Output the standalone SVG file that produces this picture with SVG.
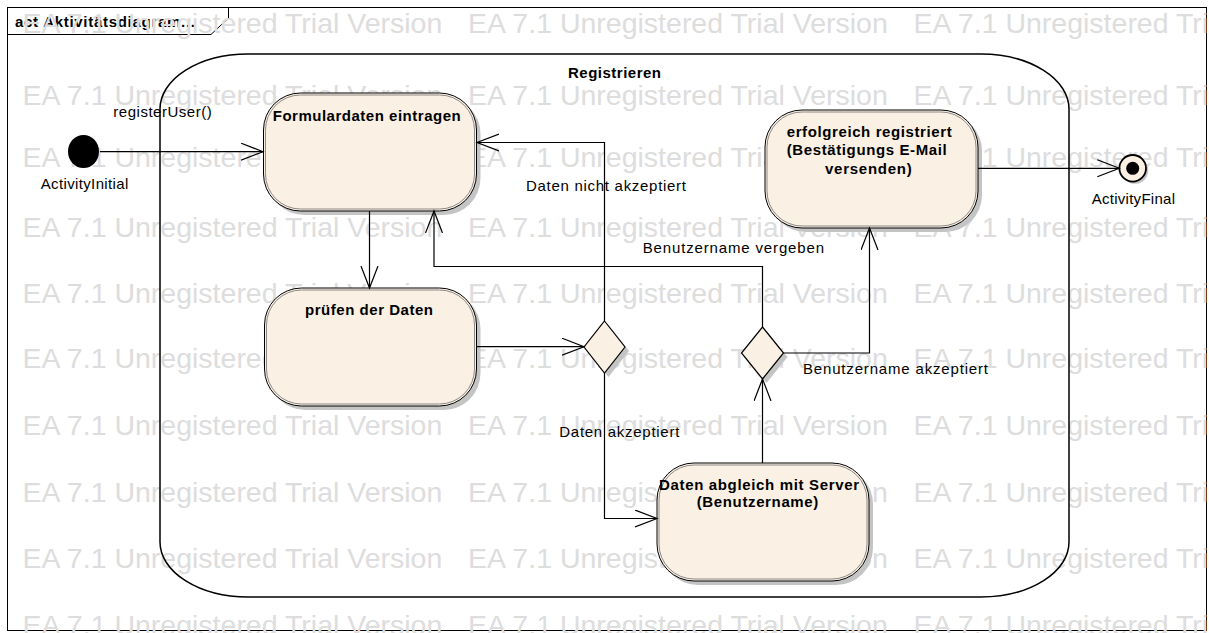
<svg xmlns="http://www.w3.org/2000/svg" xmlns:xlink="http://www.w3.org/1999/xlink" width="1209" height="633" viewBox="0 0 1209 633">
<style>
.t{font-family:"Liberation Sans",Arial,sans-serif;font-size:15px;fill:#000}
.b{font-weight:bold}
.wm{font-family:"Liberation Sans",Arial,sans-serif;font-size:28.5px;fill:#dddddd}
.node{fill:#FAF0E4;stroke:#000;stroke-width:1}
.inner{fill:none;stroke:#707070;stroke-width:0.8}
.shadow{fill:#c4c4c4}
.conn{fill:none;stroke:#000;stroke-width:1.2}
</style>
<defs>
<marker id="arr" markerUnits="userSpaceOnUse" markerWidth="24" markerHeight="20" viewBox="0 0 24 20" refX="22" refY="9" orient="auto">
<path d="M0,0.5 L22,9 L0,17.5" fill="none" stroke="#000" stroke-width="1.2"/>
</marker>
<g id="wmrow">
<text class="wm" x="22.5">EA 7.1 Unregistered Trial Version</text>
<text class="wm" x="468">EA 7.1 Unregistered Trial Version</text>
<text class="wm" x="913.5">EA 7.1 Unregistered Trial Version</text>
</g>
</defs>
<rect x="0" y="0" width="1209" height="633" fill="#fff"/>
<g id="frame">
<rect x="7.5" y="7.5" width="1199" height="623" fill="#fff" stroke="#000" stroke-width="1"/>
<path d="M7.5,34.5 H211 L228.5,18 V7.5" fill="none" stroke="#000" stroke-width="1"/>
<text class="t b" x="15" y="26.5" font-size="14" textLength="180" lengthAdjust="spacing">act Aktivitätsdiagram...</text>
</g>
<g id="watermark">
<use xlink:href="#wmrow" y="33"/>
<use xlink:href="#wmrow" y="105"/>
<use xlink:href="#wmrow" y="167"/>
<use xlink:href="#wmrow" y="237"/>
<use xlink:href="#wmrow" y="303"/>
<use xlink:href="#wmrow" y="368"/>
<use xlink:href="#wmrow" y="435"/>
<use xlink:href="#wmrow" y="502"/>
<use xlink:href="#wmrow" y="568"/>
<use xlink:href="#wmrow" y="635"/>
</g>
<g id="partition">
<rect x="160" y="54" width="909" height="543" rx="88" ry="55" fill="none" stroke="#000" stroke-width="1.5"/>
<text class="t b" x="568" y="78" textLength="93" lengthAdjust="spacing">Registrieren</text>
</g>
<g id="initial">
<ellipse cx="83.5" cy="151.5" rx="15.5" ry="16.5" fill="#000"/>
<text class="t" x="40.7" y="189" textLength="87.6" lengthAdjust="spacing">ActivityInitial</text>
</g>
<g id="final">
<circle cx="1135" cy="170.5" r="13.3" class="shadow"/>
<circle cx="1132.7" cy="168.3" r="13.3" fill="#FAF0E4" stroke="#000" stroke-width="1.8"/>
<circle cx="1132.7" cy="168.3" r="6.5" fill="#000"/>
<text class="t" x="1091.7" y="204.3" textLength="83.3" lengthAdjust="spacing">ActivityFinal</text>
</g>
<g id="formulardaten">
<rect x="267.5" y="97" width="213" height="118" rx="37" ry="37" class="shadow"/>
<rect x="263.5" y="93" width="213" height="118" rx="37" ry="37" class="node"/>
<rect x="265.5" y="95" width="209" height="114" rx="35" ry="35" class="inner"/>
<text class="t b" x="272.7" y="120.7" textLength="188" lengthAdjust="spacing">Formulardaten eintragen</text>
</g>
<g id="pruefen">
<rect x="268.5" y="292" width="212" height="118" rx="37" ry="37" class="shadow"/>
<rect x="264.5" y="288" width="212" height="118" rx="37" ry="37" class="node"/>
<rect x="266.5" y="290" width="208" height="114" rx="35" ry="35" class="inner"/>
<text class="t b" x="305" y="315" textLength="128" lengthAdjust="spacing">prüfen der Daten</text>
</g>
<g id="erfolgreich">
<rect x="769" y="114" width="213" height="118" rx="37" ry="37" class="shadow"/>
<rect x="765" y="110" width="213" height="118" rx="37" ry="37" class="node"/>
<rect x="767" y="112" width="209" height="114" rx="35" ry="35" class="inner"/>
<text class="t b" x="786.7" y="136.7" textLength="165" lengthAdjust="spacing">erfolgreich registriert</text>
<text class="t b" x="786.7" y="155" textLength="160" lengthAdjust="spacing">(Bestätigungs E-Mail</text>
<text class="t b" x="825" y="174" textLength="86.7" lengthAdjust="spacing">versenden)</text>
</g>
<g id="abgleich">
<rect x="661" y="467" width="212" height="118" rx="37" ry="37" class="shadow"/>
<rect x="657" y="463" width="212" height="118" rx="37" ry="37" class="node"/>
<rect x="659" y="465" width="208" height="114" rx="35" ry="35" class="inner"/>
<text class="t b" x="659" y="490" textLength="200" lengthAdjust="spacing">Daten abgleich mit Server</text>
<text class="t b" x="696.7" y="507" textLength="121.6" lengthAdjust="spacing">(Benutzername)</text>
</g>
<g id="decision1">
<path d="M608.5,325 L629,351 L608.5,377 L588,351 Z" class="shadow"/>
<path d="M604.5,321 L625,347 L604.5,373 L584,347 Z" fill="#FAF0E4" stroke="#000" stroke-width="1.2"/>
</g>
<g id="decision2">
<path d="M766.5,331 L787.5,357 L766.5,383 L745.5,357 Z" class="shadow"/>
<path d="M762.5,327 L783.5,353 L762.5,379 L741.5,353 Z" fill="#FAF0E4" stroke="#000" stroke-width="1.2"/>
</g>
<g id="connectors">
<path class="conn" d="M100,151.7 H263" marker-end="url(#arr)"/>
<path class="conn" d="M369.5,211 V288" marker-end="url(#arr)"/>
<path class="conn" d="M477,346.7 H584" marker-end="url(#arr)"/>
<path class="conn" d="M604.5,321 V142.5 H477" marker-end="url(#arr)"/>
<path class="conn" d="M604.5,373 V518.5 H657" marker-end="url(#arr)"/>
<path class="conn" d="M762.5,463 V379" marker-end="url(#arr)"/>
<path class="conn" d="M762.5,327 V266.5 H434 V211" marker-end="url(#arr)"/>
<path class="conn" d="M783.5,353 H869.5 V228" marker-end="url(#arr)"/>
<path class="conn" d="M978,168.3 H1119.3" marker-end="url(#arr)"/>
<text class="t" x="113.3" y="117.3" textLength="98.4" lengthAdjust="spacing">registerUser()</text>
<text class="t" x="526" y="190.7" textLength="160" lengthAdjust="spacing">Daten nicht akzeptiert</text>
<text class="t" x="642.7" y="253.3" textLength="181.3" lengthAdjust="spacing">Benutzername vergeben</text>
<text class="t" x="559.3" y="436.7" textLength="120" lengthAdjust="spacing">Daten akzeptiert</text>
<text class="t" x="803" y="374" textLength="185" lengthAdjust="spacing">Benutzername akzeptiert</text>
</g>
</svg>
